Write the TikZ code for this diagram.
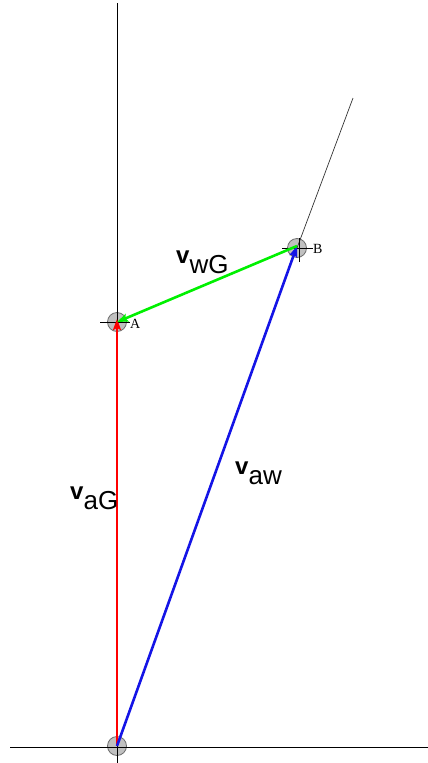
\documentclass[tikz,border=0pt]{standalone}
\usepackage{fontspec}
\setmainfont{Liberation Serif}
\newfontfamily\labfont{Liberation Sans}
\usetikzlibrary{arrows.meta}
\definecolor{ptfill}{RGB}{192,192,192}
\definecolor{ptdraw}{RGB}{110,110,110}
\definecolor{vred}{RGB}{255,0,0}
\definecolor{vblue}{RGB}{20,20,230}
\definecolor{vgreen}{RGB}{0,240,0}
\tikzset{
  ptnode/.style={circle,fill=ptfill,draw=ptdraw,line width=0.8pt,minimum size=19pt,inner sep=0pt},
  axis/.style={black,line width=0.8pt},
  thin/.style={black!80,line width=0.7pt},
  vec/.style={line width=2.6pt,-{Stealth[length=11pt,width=8pt,inset=2pt]}},
  ptlabel/.style={font=\fontsize{14}{14}\selectfont,inner sep=0pt,anchor=base west},
  veclabel/.style={font=\labfont,inner sep=0pt,anchor=base west}
}
\newcommand{\veclab}[1]{\raisebox{10pt}{\fontsize{24}{24}\selectfont\bfseries v}{\fontsize{26}{26}\selectfont #1}}
\begin{document}
\begin{tikzpicture}[x=1pt,y=-1pt]
\useasboundingbox (0,0) rectangle (428,763);
% points
\node[ptnode] (O) at (117,746) {};
\node[ptnode] (A) at (117,322) {};
\node[ptnode] (B) at (297,248) {};
% axes
\coordinate (Ytop) at (117,3);
\coordinate (Ybot) at (117,763);
\coordinate (Xl) at (10,747);
\coordinate (Xr) at (428,747);
\coordinate (Ltop) at (353,98);
\draw[axis] (Ytop) -- (Ybot);
\draw[axis] (Xl) -- (Xr);
\draw[thin] (Ltop) -- (B.center);
% crosshairs
\draw[axis] ([xshift=-17pt]A.center) -- ([xshift=13pt]A.center);
\draw[axis] ([xshift=-15pt]B.center) -- ([xshift=16pt]B.center);
\draw[axis] ([xshift=2pt,yshift=-14pt]B.center) -- ([xshift=2pt,yshift=10pt]B.center);
% labels A, B
\node[ptlabel] (LA) at (130,328) {A};
\node[ptlabel] (LB) at (313,253) {B};
% vectors
\draw[vec,vred] (O.center) -- ([yshift=3pt]A.center);
\draw[vec,vblue] (O.center) -- ([yshift=2pt]B.center);
\draw[vec,vgreen] ([yshift=2pt]B.center) -- (A.center);
% vector labels
\node[veclabel] (LwG) at (176,273) {\veclab{wG}};
\node[veclabel] (LaG) at (70,509) {\veclab{aG}};
\node[veclabel] (Law) at (235,484) {\veclab{aw}};
\end{tikzpicture}
\end{document}
